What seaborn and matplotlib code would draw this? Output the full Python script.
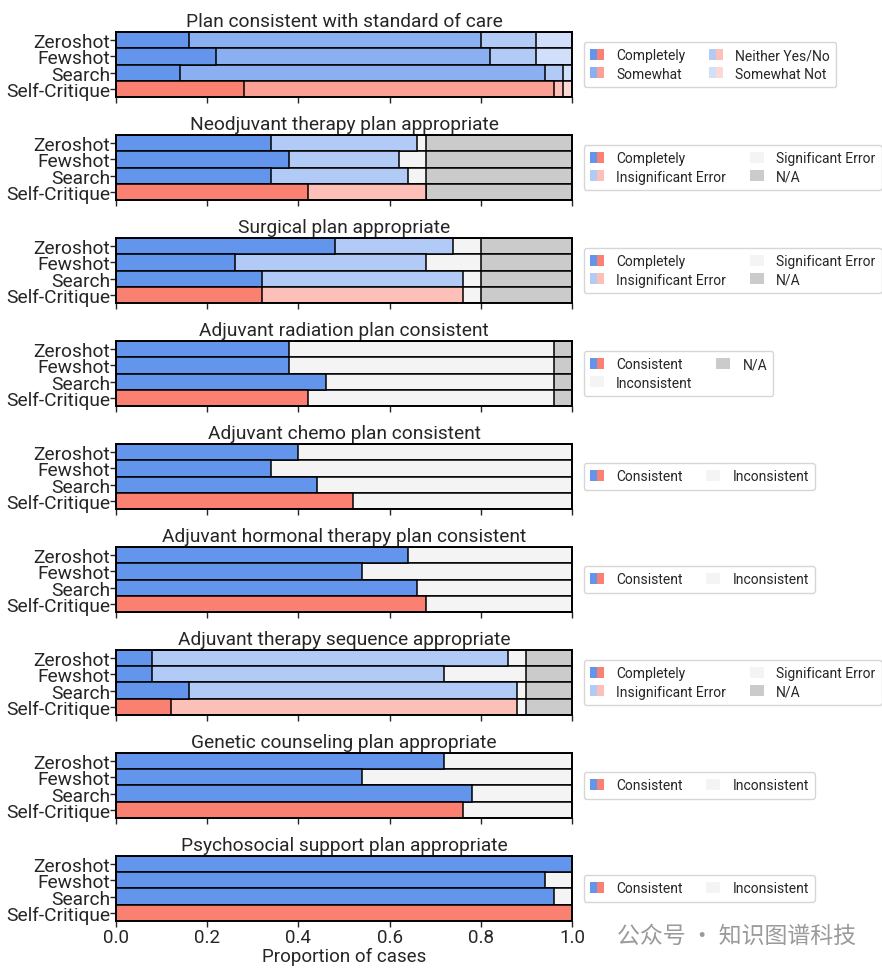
import numpy as np
import pandas as pd
import matplotlib
matplotlib.use("Agg")
import matplotlib.pyplot as plt
from matplotlib.patches import Patch
from matplotlib.legend_handler import HandlerTuple
import seaborn as sns

sns.set_style("white")
plt.rcParams['font.family'] = ['Roboto', 'DejaVu Sans']

models = ["Zeroshot", "Fewshot", "Search", "Self-Critique"]

titles = [
    "Plan consistent with standard of care",
    "Neodjuvant therapy plan appropriate",
    "Surgical plan appropriate",
    "Adjuvant radiation plan consistent",
    "Adjuvant chemo plan consistent",
    "Adjuvant hormonal therapy plan consistent",
    "Adjuvant therapy sequence appropriate",
    "Genetic counseling plan appropriate",
    "Psychosocial support plan appropriate",
]

# Panel 1: standard of care
soc_labels = ["Completely", "Somewhat", "Neither Yes/No", "Somewhat Not"]
soc_completely = [0.16, 0.22, 0.14, 0.28]
soc_somewhat = [0.64, 0.60, 0.80, 0.68]
soc_neither = [0.12, 0.10, 0.04, 0.02]
soc_somewhat_not = [0.08, 0.08, 0.02, 0.02]

err_labels = ["Completely", "Insignificant Error", "Significant Error", "N/A"]
# Panel 2: neoadjuvant
neo_completely = [0.34, 0.38, 0.34, 0.42]
neo_insig = [0.32, 0.24, 0.30, 0.26]
neo_sig = [0.02, 0.06, 0.04, 0.00]
neo_na = [0.32, 0.32, 0.32, 0.32]
# Panel 3: surgical
surg_completely = [0.48, 0.26, 0.32, 0.32]
surg_insig = [0.26, 0.42, 0.44, 0.44]
surg_sig = [0.06, 0.12, 0.04, 0.04]
surg_na = [0.20, 0.20, 0.20, 0.20]

cons_labels_na = ["Consistent", "Inconsistent", "N/A"]
cons_labels = ["Consistent", "Inconsistent"]
# Panel 4: radiation
rad_consistent = [0.38, 0.38, 0.46, 0.42]
rad_inconsistent = [0.58, 0.58, 0.50, 0.54]
rad_na = [0.04, 0.04, 0.04, 0.04]
# Panel 5: chemo
chemo_consistent = [0.40, 0.34, 0.44, 0.52]
chemo_inconsistent = [0.60, 0.66, 0.56, 0.48]
# Panel 6: hormonal
horm_consistent = [0.64, 0.54, 0.66, 0.68]
horm_inconsistent = [0.36, 0.46, 0.34, 0.32]
# Panel 7: sequence
seq_completely = [0.08, 0.08, 0.16, 0.12]
seq_insig = [0.78, 0.64, 0.72, 0.76]
seq_sig = [0.04, 0.18, 0.02, 0.02]
seq_na = [0.10, 0.10, 0.10, 0.10]
# Panel 8: genetic counseling
gen_consistent = [0.72, 0.54, 0.78, 0.76]
gen_inconsistent = [0.28, 0.46, 0.22, 0.24]
# Panel 9: psychosocial
psy_consistent = [1.00, 0.94, 0.96, 1.00]
psy_inconsistent = [0.00, 0.06, 0.04, 0.00]

BLUE = np.array([100, 149, 237]) / 255
RED = np.array([250, 128, 114]) / 255
SIG = "#f4f4f4"
NA = "#cbcbcb"


def mix(c, a):
    return tuple(c * a + (1 - a))


def pair(a):
    return (mix(BLUE, a), mix(RED, a))


# style per segment: either a (blue, red) pair or a single colour
soc_styles = [pair(1.0), pair(0.75), pair(0.5), pair(0.3)]
err_styles = [pair(1.0), pair(0.5), SIG, NA]
cons_na_styles = [pair(1.0), SIG, NA]
cons_styles = [pair(1.0), SIG]

panels = [
    (soc_labels, [soc_completely, soc_somewhat, soc_neither, soc_somewhat_not], soc_styles),
    (err_labels, [neo_completely, neo_insig, neo_sig, neo_na], err_styles),
    (err_labels, [surg_completely, surg_insig, surg_sig, surg_na], err_styles),
    (cons_labels_na, [rad_consistent, rad_inconsistent, rad_na], cons_na_styles),
    (cons_labels, [chemo_consistent, chemo_inconsistent], cons_styles),
    (cons_labels, [horm_consistent, horm_inconsistent], cons_styles),
    (err_labels, [seq_completely, seq_insig, seq_sig, seq_na], err_styles),
    (cons_labels, [gen_consistent, gen_inconsistent], cons_styles),
    (cons_labels, [psy_consistent, psy_inconsistent], cons_styles),
]

fig, axes = plt.subplots(9, 1, figsize=(8.82, 9.70), dpi=100)
fig.subplots_adjust(left=116 / 882, right=572 / 882, top=1 - 33 / 970,
                    bottom=1 - 922 / 970, hspace=38 / 65)

for ax, title, (labels, series, styles) in zip(axes, titles, panels):
    cum = np.cumsum(np.array(series), axis=0)
    # draw from the longest cumulative bar to the shortest so segments overlay
    for k in range(len(series) - 1, -1, -1):
        st = styles[k]
        if isinstance(st, tuple) and len(st) == 2 and isinstance(st[0], tuple):
            pal = {m: (st[1] if m == "Self-Critique" else st[0]) for m in models}
        else:
            pal = {m: st for m in models}
        df = pd.DataFrame({"model": models, "value": cum[k]})
        sns.barplot(data=df, x="value", y="model", hue="model", palette=pal,
                    legend=False, orient="h", width=1.0, edgecolor="black",
                    linewidth=1.1, ax=ax, saturation=1)
    ax.set_xlim(0, 1)
    ax.set_xticks([0, 0.2, 0.4, 0.6, 0.8, 1.0])
    ax.set_title(title, fontsize=13.8, pad=4)
    ax.set_ylabel("")
    ax.set_xlabel("")
    ax.tick_params(axis="y", labelsize=13.8, length=4, width=1, direction="out",
                   left=True, pad=0)
    ax.tick_params(axis="x", labelsize=13.5, length=4, width=1, direction="out",
                   bottom=True, pad=1)
    for s in ax.spines.values():
        s.set_visible(True)
        s.set_color("black")
        s.set_linewidth(1.4)
    if ax is not axes[-1]:
        ax.set_xticklabels([])

    handles = []
    for st in styles:
        if isinstance(st, tuple) and len(st) == 2 and isinstance(st[0], tuple):
            handles.append((Patch(fc=st[0], ec="none"), Patch(fc=st[1], ec="none")))
        else:
            handles.append(Patch(fc=st, ec="none"))
    ax.legend(handles, labels, handler_map={tuple: HandlerTuple(ndivide=None, pad=0)},
              loc="center left", bbox_to_anchor=(1.01, 0.5), ncol=2, fontsize=10,
              handlelength=1.0, handleheight=0.8, handletextpad=0.9,
              columnspacing=1.7, frameon=True, borderpad=0.45, labelspacing=0.3)

axes[-1].set_xlabel("Proportion of cases", fontsize=13.5, labelpad=1)

fig.text(0.97, 1 - 936 / 970, "公众号 · 知识图谱科技", ha="right", va="center",
         fontsize=16.5, color="#9a9a9a", family=["Noto Sans CJK SC", "DejaVu Sans"])

fig.savefig("out.png", dpi=100)
